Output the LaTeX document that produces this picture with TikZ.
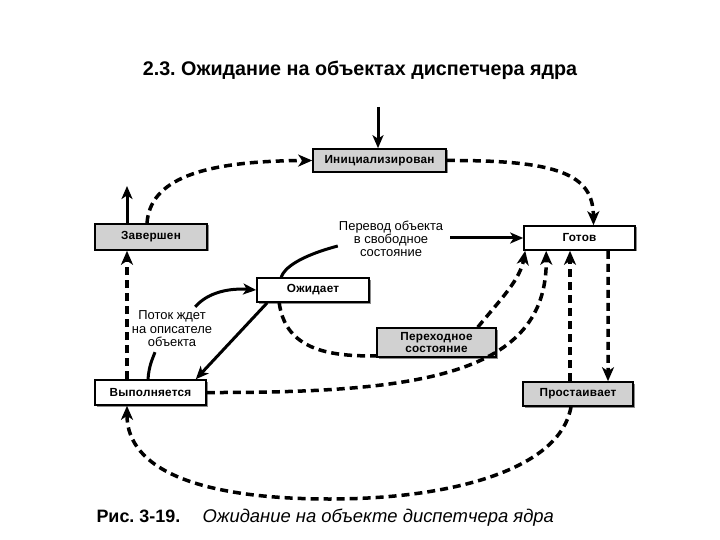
\documentclass[tikz,border=0pt]{standalone}
\usepackage{fontspec}
\setmainfont{Liberation Sans}
\newfontfamily\boxfont[LetterSpace=2]{Liberation Sans}
\usetikzlibrary{arrows.meta,calc,shadows}
\frenchspacing
\begin{document}
\begin{tikzpicture}[x=1bp,y=-1bp,
  box/.style={draw=black, line width=1.6bp, minimum height=24bp, inner sep=0pt,
    font=\boxfont\bfseries\fontsize{11.8}{12.5}\selectfont, align=center,
    drop shadow={shadow xshift=1.5bp, shadow yshift=-1.5bp, fill=black!45, opacity=1}},
  graybox/.style={box, fill=black!18},
  whitebox/.style={box, fill=white},
  lbl/.style={inner sep=1bp, align=center},
  tipd/.tip={Stealth[length=14bp,width=12bp,inset=4bp]},
  dsh/.style={line width=3.5bp, dash pattern=on 8bp off 5bp},
  dsharr/.style={dsh, -tipd},
  sline/.style={line width=3bp},
  sarr/.style={sline, -{Stealth[length=13bp,width=11bp,inset=3.5bp]}}
]
\useasboundingbox (0,0) rectangle (720,540);
\fill[white] (0,0) rectangle (720,540);

\node[font=\bfseries\fontsize{19.8}{22}\selectfont] (title) at (360,70) {2.3. Ожидание на объектах диспетчера ядра};

\node[graybox, minimum width=133bp, minimum height=23bp] (init) at (379.5,160.5) {Инициализирован};
\node[graybox, minimum width=112bp, minimum height=26bp] (zav) at (151,237) {Завершен};
\node[whitebox, minimum width=111bp] (gotov) at (579.5,238) {Готов};
\node[whitebox, minimum width=112bp] (ozh) at (313,290) {Ожидает};
\node[graybox, minimum width=119bp, minimum height=29bp] (perekh) at (436.5,342.5) {Переходное\\состояние};
\node[whitebox, minimum width=111bp, minimum height=25bp] (vyp) at (150.5,392.5) {Выполняется};
\node[graybox, minimum width=110bp] (prost) at (578,394) {Простаивает};

\node[lbl, font=\fontsize{13}{13}\selectfont] (lbl1) at (391,239) {Перевод объекта\\в свободное\\состояние};
\node[lbl, font=\fontsize{13}{13.5}\selectfont] (lbl2) at (172,329) {Поток ждет\\на описателе\\объекта};

\coordinate (topin) at (378,107);
\coordinate (zavup) at (127,186);

% solid connectors
\draw[sarr] (topin) -- ($(init.north)+(-1.5,0)$);
\draw[sarr] ($(zav.north)+(-24,0)$) -- (zavup);
\draw[sarr] ($(lbl1.east)+(6,-1)$) -- (gotov.west);
\draw[sline] ($(lbl1.west)+(0,7)$) .. controls (300,256) and (284,268) .. ($(ozh.north west)+(25,0)$);
\draw[sline] ($(vyp.north)+(-2.5,0)$) .. controls (149,366) and (152,360) .. ($(lbl2.south)+(-17,4)$);
\draw[sarr] ($(lbl2.north east)+(-18,-3)$) .. controls (208,292) and (230,288) .. (ozh.west);
\draw[sarr] ($(ozh.south west)+(11,0)$) -- ($(vyp.north east)+(-11,0)$);

% dashed connectors
\draw[dsharr] ($(zav.north)+(-4,0)$) .. controls (150,180) and (200,161) .. (init.west);
\draw[dsharr] (init.east) .. controls (560,160) and (593,175) .. ($(gotov.north)+(14,0)$);
\draw[dsharr] ($(vyp.north)+(-23.5,0)$) -- ($(zav.south)+(-24,0)$);
\draw[dsh] ($(ozh.south west)+(23,0)$) .. controls (285,345) and (320,357) .. ($(perekh.south west)+(0,-2)$);
\draw[dsharr] ($(perekh.north east)+(-19,0)$) .. controls (500,300) and (520,280) .. ($(gotov.south west)+(2,0)$);
\draw[dsharr] (vyp.east) .. controls (420,393) and (547,375) .. ($(gotov.south west)+(23,0)$);
\draw[dsharr] ($(prost.north)+(-8,0)$) -- ($(gotov.south)+(-9.5,0)$);
\draw[dsharr] ($(gotov.south)+(28.5,0)$) -- ($(prost.north)+(30,0)$);
\draw[dsharr] ($(prost.south)+(-7,0)$) .. controls (560,470) and (450,499) .. (330,499)
  .. controls (200,499) and (127,470) .. ($(vyp.south)+(-23.5,0)$);

\node[anchor=base west, font=\bfseries\fontsize{18}{20}\selectfont] (cap1) at (93,522) {Рис. 3-19.};
\node[anchor=base west, font=\itshape\fontsize{18.5}{20}\selectfont] (cap2) at (199,522) {Ожидание на объекте диспетчера ядра};
\end{tikzpicture}
\end{document}
